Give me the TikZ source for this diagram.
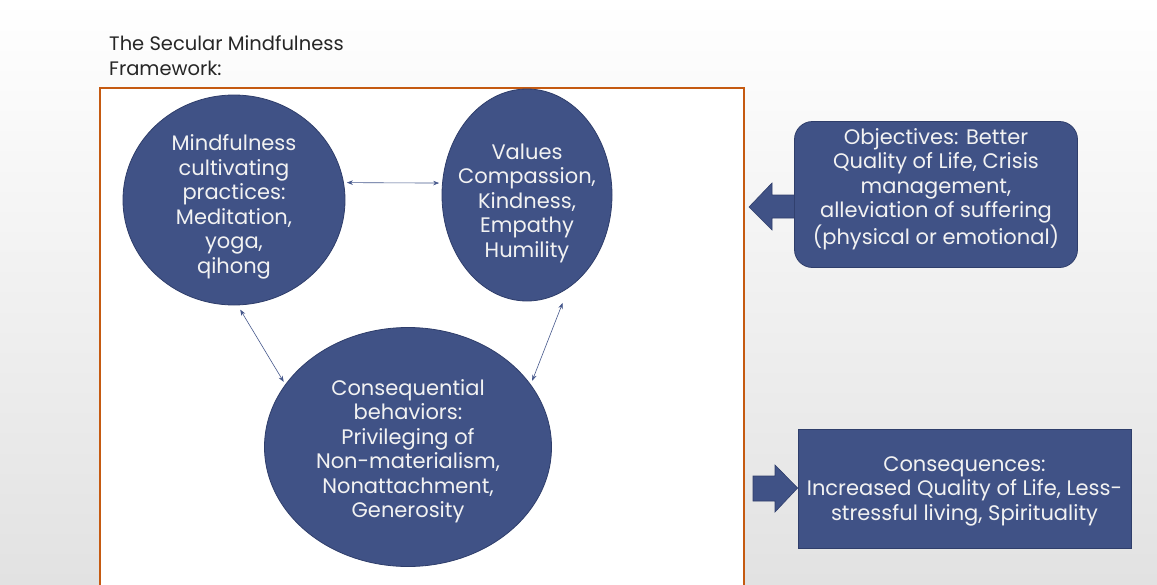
\documentclass[tikz,border=0pt]{standalone}
\usepackage{fontspec}
\setmainfont{Poppins}
\usetikzlibrary{shapes.geometric,calc,arrows.meta}
\definecolor{nblue}{RGB}{64,82,134}
\definecolor{nedge}{RGB}{47,62,107}
\definecolor{framec}{RGB}{197,90,17}
\definecolor{bgbot}{RGB}{226,226,226}
\definecolor{txtw}{RGB}{242,242,242}
\definecolor{arr}{RGB}{70,88,140}
\begin{document}
\begin{tikzpicture}[x=1pt,y=-1pt,
  blob/.style={ellipse, fill=nblue, draw=nedge, line width=0.8pt, inner sep=0pt},
  ctext/.style={text=txtw, align=center, font=\fontsize{21}{24.5}\selectfont, inner sep=0pt},
  boxstyle/.style={fill=nblue, draw=nedge, line width=0.8pt, inner sep=0pt},
  dbl/.style={{Stealth[length=6pt,width=4.5pt]}-{Stealth[length=6pt,width=4.5pt]}, draw=arr, line width=0.6pt},
  blockarrow/.style={fill=nblue, draw=nedge, line width=0.6pt}]
\useasboundingbox (0,0) rectangle (1157,584);
\clip (0,0) rectangle (1157,584);
\shade[top color=white, bottom color=bgbot] (0,0) rectangle (1157,584);
% title
\node[anchor=north west, align=left, inner sep=0pt, text=black!85,
      font=\fontsize{19.5}{25}\selectfont] (title) at (109,35) {The Secular Mindfulness\\Framework:};
% frame
\draw[framec, line width=1.4pt, fill=white] (100,88) rectangle (744,600);
% circles
\node[blob, minimum width=222pt, minimum height=210pt] (c1) at (234,200) {};
\node[ctext] (c1t) at (234,207) {Mindfulness\\cultivating\\practices:\\Meditation,\\yoga,\\qihong};
\node[blob, minimum width=170pt, minimum height=212pt] (c2) at (527,195) {};
\node[ctext] (c2t) at (527,203) {Values\\Compassion,\\Kindness,\\Empathy\\Humility};
\node[blob, minimum width=287pt, minimum height=239pt] (c3) at (408,447) {};
\node[ctext] (c3t) at (408,451) {Consequential\\behaviors:\\Privileging of\\Non-materialism,\\Nonattachment,\\Generosity};
% connectors
\draw[dbl, shorten <=3pt, shorten >=3pt] (c1.9) -- (c2.172);
\draw[dbl, shorten <=5pt, shorten >=3pt] (c1.-88) -- (c3.153);
\draw[dbl, shorten <=16pt, shorten >=4pt] (c2.-66) -- (c3.27);
% objectives
\node[boxstyle, rounded corners=18pt, minimum width=283pt, minimum height=146pt] (obj) at (936,194.5) {};
\node[ctext] (objt) at (936,189) {Objectives: Better\\Quality of Life, Crisis\\management,\\alleviation of suffering\\(physical or emotional)};
\draw[blockarrow] (obj.west |- 0,195) -- (772,195) -- (772,183) -- (749,207) -- (772,230) -- (772,218) -- (obj.west |- 0,218);
% consequences
\node[boxstyle, minimum width=333pt, minimum height=119pt] (con) at (964.5,489) {};
\node[ctext] (cont) at (964.5,491) {Consequences:\\Increased Quality of Life, Less-\\stressful living, Spirituality};
\draw[blockarrow] (753,476) -- (775,476) -- (775,465) -- (con.west |- 0,488) -- (775,512) -- (775,501) -- (753,501) -- cycle;
\end{tikzpicture}
\end{document}
